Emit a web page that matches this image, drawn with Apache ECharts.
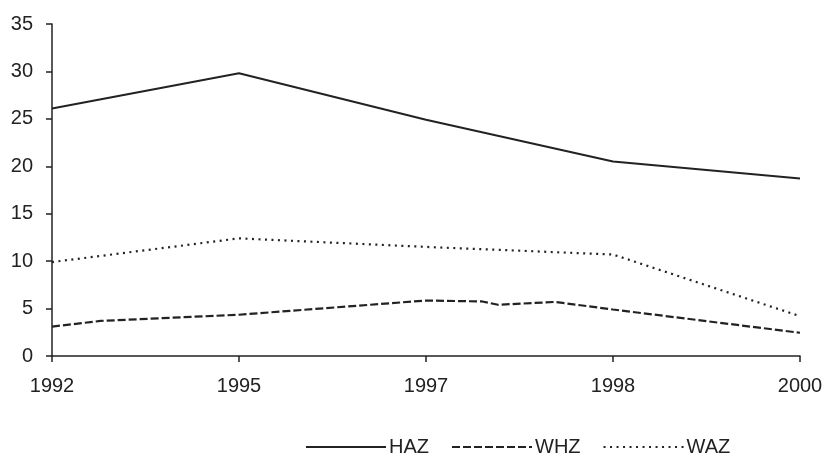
<!DOCTYPE html>
<html>
<head>
<meta charset="utf-8">
<script src="https://cdn.jsdelivr.net/npm/echarts@6/dist/echarts.min.js"></script>
<style>
html,body{margin:0;padding:0;background:#fff;}
#chart{width:829px;height:459px;}
</style>
</head>
<body>
<div id="chart"></div>
<script>
// Category labels (x positions 0..4 on a value axis)
var years = ['1992', '1995', '1997', '1998', '2000'];
var yTicks = [0, 5, 10, 15, 20, 25, 30, 35];

// HAZ at each year
var hazX = [0, 1, 2, 3, 4];
var hazY = [26.1, 29.8, 24.9, 20.5, 18.7];

// WHZ, including intermediate kinks drawn between years
var whzX = [0, 0.26, 1, 2, 2.3, 2.385, 2.69, 3, 4];
var whzY = [3.1, 3.7, 4.35, 5.85, 5.75, 5.4, 5.7, 4.9, 2.45];

// WAZ at each year
var wazX = [0, 1, 2, 3, 4];
var wazY = [9.9, 12.4, 11.5, 10.7, 4.2];

function pairs(xs, ys) { return xs.map(function (x, i) { return [x, ys[i]]; }); }

var fontFam = '"Liberation Sans", Arial, Helvetica, sans-serif';
var ink = '#222';

var chart = echarts.init(document.getElementById('chart'), null, { renderer: 'canvas' });
chart.setOption({
  animation: false,
  backgroundColor: '#fff',
  grid: { left: 52, right: 29, top: 24, bottom: 103, containLabel: false },
  legend: {
    left: 300,
    top: 432,
    itemWidth: 80,
    itemHeight: 12,
    itemGap: 22,
    itemStyle: { opacity: 0 },
    textStyle: { fontFamily: fontFam, fontSize: 20, color: ink, padding: [0, 0, 0, -2] },
    data: ['HAZ', 'WHZ', 'WAZ']
  },
  xAxis: {
    type: 'value',
    min: 0,
    max: 4,
    interval: 1,
    splitLine: { show: false },
    axisLine: { lineStyle: { color: ink, width: 1.5 } },
    axisTick: { show: true, length: 6, lineStyle: { color: ink, width: 1.5 } },
    axisLabel: {
      margin: 20,
      fontFamily: fontFam, fontSize: 20, color: ink,
      formatter: function (v) { return years[Math.round(v)] || ''; }
    }
  },
  yAxis: {
    type: 'value',
    min: yTicks[0],
    max: yTicks[yTicks.length - 1],
    interval: 5,
    splitLine: { show: false },
    axisLine: { show: true, lineStyle: { color: ink, width: 1.5 } },
    axisTick: { show: true, length: 6, lineStyle: { color: ink, width: 1.5 } },
    axisLabel: { margin: 19, fontFamily: fontFam, fontSize: 20, color: ink }
  },
  series: [
    {
      name: 'HAZ', type: 'line', symbol: 'none',
      data: pairs(hazX, hazY),
      lineStyle: { color: ink, width: 2, type: 'solid' },
      itemStyle: { color: ink }
    },
    {
      name: 'WHZ', type: 'line', symbol: 'none',
      data: pairs(whzX, whzY),
      lineStyle: { color: ink, width: 2.2, type: [8, 3] },
      itemStyle: { color: ink }
    },
    {
      name: 'WAZ', type: 'line', symbol: 'none',
      data: pairs(wazX, wazY),
      lineStyle: { color: ink, width: 2.2, type: [2, 4.5] },
      itemStyle: { color: ink }
    }
  ]
});
</script>
</body>
</html>
